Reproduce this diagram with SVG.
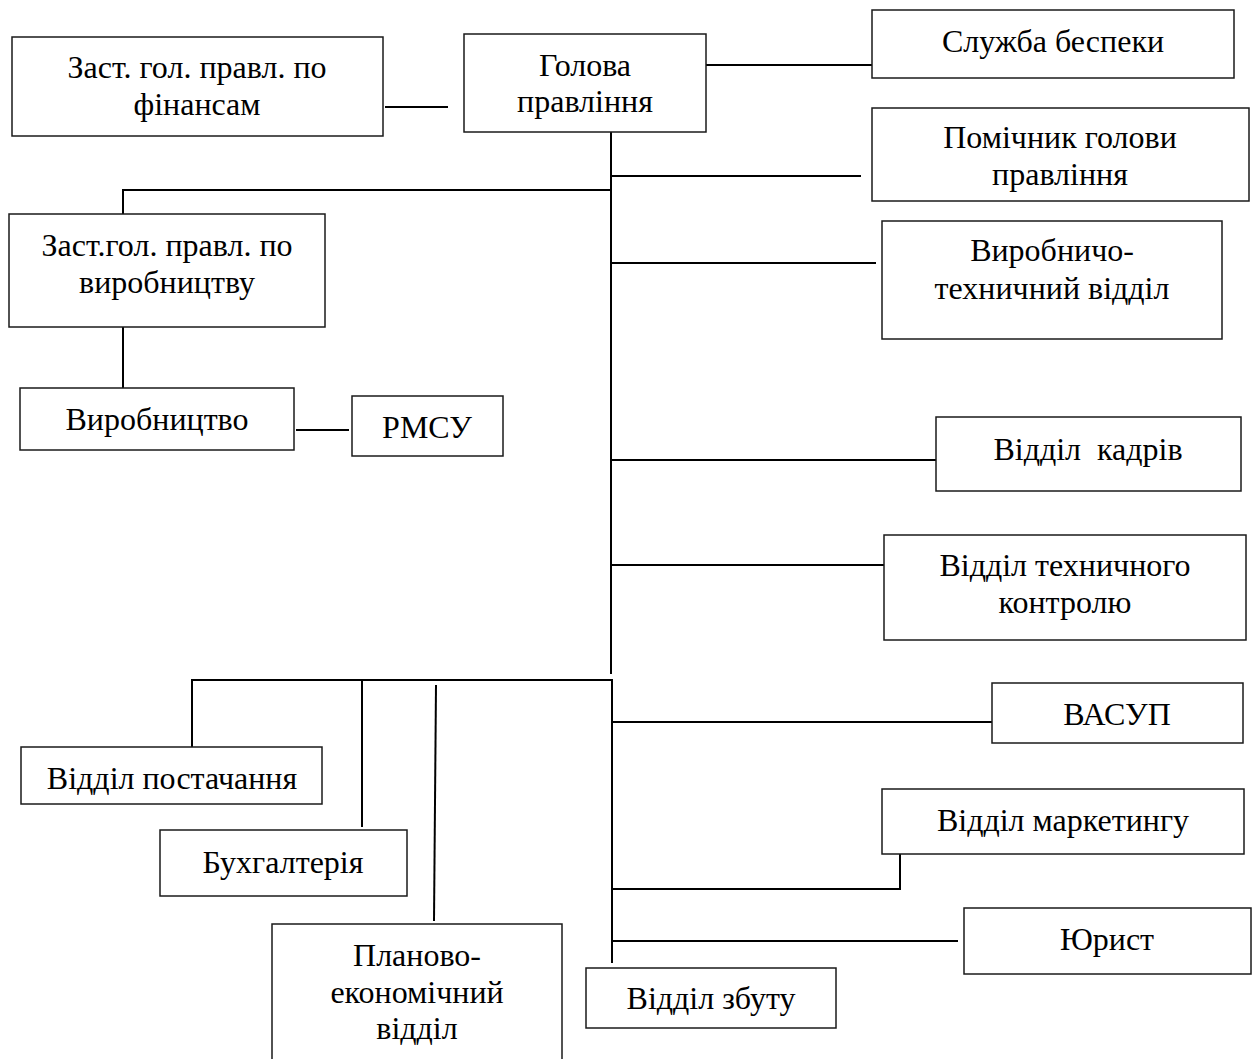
<svg xmlns="http://www.w3.org/2000/svg" width="1256" height="1059" viewBox="0 0 1256 1059">
<style>
.box{fill:#fff;stroke:#1a1a1a;stroke-width:1.5}
.ln{fill:none;stroke:#000;stroke-width:2}
text{font-family:"Liberation Serif","Times New Roman",serif;font-size:32px;fill:#000;text-anchor:middle;white-space:pre}
</style>
<rect width="1256" height="1059" fill="#fff"/>
<g id="connectors">
<path class="ln" d="M385 107 H448"/>
<path class="ln" d="M706 65 H872"/>
<path class="ln" d="M611 132 V674"/>
<path class="ln" d="M123 214 V190 H612"/>
<path class="ln" d="M611 176 H861"/>
<path class="ln" d="M611 263 H876"/>
<path class="ln" d="M123 327 V388"/>
<path class="ln" d="M296 430 H349"/>
<path class="ln" d="M611 460 H936"/>
<path class="ln" d="M611 565 H884"/>
<path class="ln" d="M192 747 V680 H612 V963"/>
<path class="ln" d="M362 680 V827"/>
<path class="ln" d="M436 685 L434 921"/>
<path class="ln" d="M611 722 H992"/>
<path class="ln" d="M611 889 H900 V850"/>
<path class="ln" d="M611 941 H958"/>
</g>
<g id="n-fin"><rect class="box" x="12" y="37" width="371" height="99"/><text x="197" y="78">Заст. гол. правл. по</text><text x="197" y="115">фінансам</text></g>
<g id="n-golova"><rect class="box" x="464" y="34" width="242" height="98"/><text x="585" y="76">Голова</text><text x="585" y="112">правління</text></g>
<g id="n-sluzhba"><rect class="box" x="872" y="10" width="362" height="68"/><text x="1053" y="52">Служба беспеки</text></g>
<g id="n-pomichnyk"><rect class="box" x="872" y="108" width="377" height="93"/><text x="1060" y="148">Помічник голови</text><text x="1060" y="185">правління</text></g>
<g id="n-vyrtekh"><rect class="box" x="882" y="221" width="340" height="118"/><text x="1052" y="261">Виробничо-</text><text x="1052" y="299">техничний відділ</text></g>
<g id="n-zastvyr"><rect class="box" x="9" y="214" width="316" height="113"/><text x="167" y="256">Заст.гол. правл. по</text><text x="167" y="293">виробництву</text></g>
<g id="n-vyrobnytstvo"><rect class="box" x="20" y="388" width="274" height="62"/><text x="157" y="430">Виробництво</text></g>
<g id="n-rmsu"><rect class="box" x="352" y="396" width="151" height="60"/><text x="427" y="438">РМСУ</text></g>
<g id="n-kadriv"><rect class="box" x="936" y="417" width="305" height="74"/><text x="1088" y="460">Відділ  кадрів</text></g>
<g id="n-tekhkontr"><rect class="box" x="884" y="535" width="362" height="105"/><text x="1065" y="576">Відділ техничного</text><text x="1065" y="613">контролю</text></g>
<g id="n-vasup"><rect class="box" x="992" y="683" width="251" height="60"/><text x="1117" y="725">ВАСУП</text></g>
<g id="n-postach"><rect class="box" x="21" y="747" width="301" height="57"/><text x="172" y="789">Відділ постачання</text></g>
<g id="n-bukh"><rect class="box" x="160" y="830" width="247" height="66"/><text x="283" y="873">Бухгалтерія</text></g>
<g id="n-planovo"><rect class="box" x="272" y="924" width="290" height="140"/><text x="417" y="966">Планово-</text><text x="417" y="1003">економічний</text><text x="417" y="1039">відділ</text></g>
<g id="n-marketyng"><rect class="box" x="882" y="789" width="362" height="65"/><text x="1063" y="831">Відділ маркетингу</text></g>
<g id="n-yuryst"><rect class="box" x="964" y="908" width="287" height="66"/><text x="1107" y="950">Юрист</text></g>
<g id="n-zbutu"><rect class="box" x="586" y="968" width="250" height="60"/><text x="711" y="1009">Відділ збуту</text></g>
</svg>
